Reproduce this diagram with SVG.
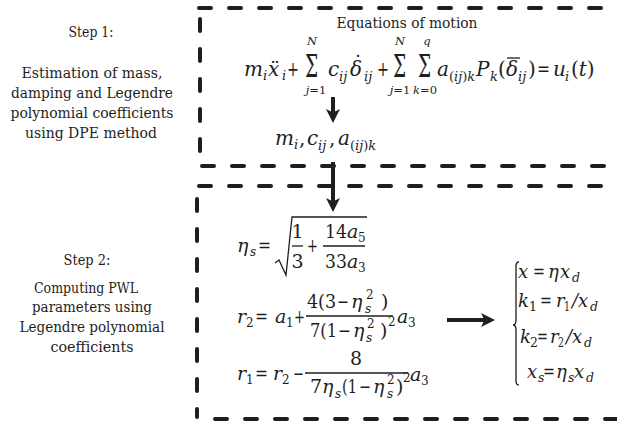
<svg xmlns="http://www.w3.org/2000/svg" width="617" height="423" viewBox="0 0 617 423">
<style>
text{font-family:"DejaVu Serif",serif;fill:#1e1e1e}
.t{font-size:15.5px;text-anchor:middle}
.m{font-size:20px;font-style:italic}
.r{font-size:20px}
.sig{font-size:31px}
.s{font-size:13px;font-style:italic}
.l{font-size:11.5px;font-style:italic;text-anchor:middle}
.m2{font-size:19px;font-style:italic}
.r2{font-size:19px}
.s2{font-size:12px;font-style:italic}
.sr2{font-size:12px}
.m3{font-size:18px;font-style:italic}
.r3{font-size:18px}
.s3{font-size:12.5px;font-style:italic}
.sr3{font-size:12.5px}
.dash{fill:none;stroke:#1e1e1e;stroke-width:4;stroke-dasharray:12 18;stroke-linecap:round}
.arr{fill:none;stroke:#1e1e1e;stroke-width:4}
.thin{fill:none;stroke:#1e1e1e;stroke-width:1.3}
</style>
<defs>
<marker id="ah" markerUnits="userSpaceOnUse" markerWidth="15" markerHeight="14" refX="8" refY="7" orient="auto">
<path d="M0,0 L14,7 L0,14 L3.5,7 z" fill="#1e1e1e"/>
</marker>
</defs>

<g id="boxes">
<path class="dash" d="M199 8 H617"/>
<path class="dash" d="M200 19 V160"/>
<path class="dash" d="M202 166 H617"/>
<path class="dash" d="M199 186 H617"/>
<path class="dash" d="M197 199 V417"/>
<path class="dash" d="M215 419 H617"/>
</g>

<g id="step1-label">
<text class="t" x="91" y="37" textLength="45" lengthAdjust="spacingAndGlyphs">Step 1:</text>
<text class="t" x="92" y="78" textLength="141" lengthAdjust="spacingAndGlyphs">Estimation of mass,</text>
<text class="t" x="92" y="98" textLength="162" lengthAdjust="spacingAndGlyphs">damping and Legendre</text>
<text class="t" x="92" y="118" textLength="163" lengthAdjust="spacingAndGlyphs">polynomial coefficients</text>
<text class="t" x="91" y="138" textLength="132" lengthAdjust="spacingAndGlyphs">using DPE method</text>
</g>

<g id="step2-label">
<text class="t" x="87" y="265" textLength="47" lengthAdjust="spacingAndGlyphs">Step 2:</text>
<text class="t" x="86" y="293" textLength="104" lengthAdjust="spacingAndGlyphs">Computing PWL</text>
<text class="t" x="92" y="312" textLength="120" lengthAdjust="spacingAndGlyphs">parameters using</text>
<text class="t" x="92" y="332" textLength="145" lengthAdjust="spacingAndGlyphs">Legendre polynomial</text>
<text class="t" x="92" y="352" textLength="83" lengthAdjust="spacingAndGlyphs">coefficients</text>
</g>

<g id="equations-of-motion">
<text class="t" x="407" y="28" textLength="141" lengthAdjust="spacingAndGlyphs">Equations of motion</text>
<text class="m" x="244" y="76">m</text><text class="s" x="263" y="80">i</text>
<text class="m" x="268" y="76">x<tspan x="270" font-style="normal">¨</tspan></text><text class="s" x="282" y="80">i</text>
<text class="r" x="287" y="76" textLength="12" lengthAdjust="spacingAndGlyphs">+</text>
<text class="sig" transform="translate(305,77) scale(0.6,1)">Σ</text>
<text class="l" x="312" y="45">N</text>
<text class="l" x="316" y="94">j<tspan font-style="normal">=1</tspan></text>
<text class="m" x="328" y="76">c</text><text class="s" x="339" y="81">ij</text>
<text class="m" x="350" y="76">δ<tspan x="353" y="70" font-style="normal">˙</tspan></text><text class="s" x="364" y="81">ij</text>
<text class="r" x="377" y="76" textLength="12" lengthAdjust="spacingAndGlyphs">+</text>
<text class="sig" transform="translate(393,77) scale(0.6,1)">Σ</text>
<text class="l" x="400" y="45">N</text>
<text class="l" x="400" y="94">j<tspan font-style="normal">=1</tspan></text>
<text class="sig" transform="translate(418,77) scale(0.6,1)">Σ</text>
<text class="l" x="427" y="45">q</text>
<text class="l" x="425" y="94">k<tspan font-style="normal">=0</tspan></text>
<text class="m" x="437" y="76">a</text><text class="s" x="449" y="81"><tspan font-style="normal">(</tspan>ij<tspan font-style="normal">)</tspan>k</text>
<text class="m" x="476" y="76">P</text><text class="s" x="490" y="81">k</text>
<text class="r" x="498" y="76">(</text>
<text class="m" x="506" y="76">δ</text><line class="thin" x1="507" y1="58" x2="520" y2="58"/><text class="s" x="518" y="81">ij</text>
<text class="r" x="528" y="76">)</text>
<text class="r" x="537" y="76" textLength="13" lengthAdjust="spacingAndGlyphs">=</text>
<text class="m" x="553" y="76">u</text><text class="s" x="565" y="81">i</text>
<text class="r" x="571" y="76">(<tspan font-style="italic">t</tspan>)</text>
</g>

<g id="parameters">
<text class="m" x="275" y="145">m</text><text class="s" x="294" y="149">i</text>
<text class="r" x="299" y="145">,</text>
<text class="m" x="307" y="145">c</text><text class="s" x="318" y="150">ij</text>
<text class="r" x="329" y="145">,</text>
<text class="m" x="338" y="145">a</text><text class="s" x="350" y="150"><tspan font-style="normal">(</tspan>ij<tspan font-style="normal">)</tspan>k</text>
</g>

<g id="eta-eq">
<text class="m2" x="237" y="252">η</text><text class="s2" x="250" y="256">s</text>
<text class="r2" x="258" y="252" textLength="13" lengthAdjust="spacingAndGlyphs">=</text>
<path class="thin" d="M275 263 L279 260 L286 275 L292 217 L367 217"/>
<text class="r2" x="297.5" y="238" text-anchor="middle">1</text>
<line class="thin" x1="292" y1="246" x2="303" y2="246"/>
<text class="r2" x="297.5" y="268" text-anchor="middle">3</text>
<text class="r2" x="307" y="252" textLength="11" lengthAdjust="spacingAndGlyphs">+</text>
<text class="r2" x="325" y="238" textLength="22" lengthAdjust="spacingAndGlyphs">14</text><text class="m2" x="347" y="238">a</text><text class="sr2" x="358" y="242">5</text>
<line class="thin" x1="323" y1="246" x2="365" y2="246"/>
<text class="r2" x="325" y="268" textLength="22" lengthAdjust="spacingAndGlyphs">33</text><text class="m2" x="347" y="268">a</text><text class="sr2" x="358" y="272">3</text>
</g>

<g id="r2-eq">
<text class="m2" x="237" y="323">r</text><text class="sr2" x="246" y="327">2</text>
<text class="r2" x="255" y="323" textLength="13" lengthAdjust="spacingAndGlyphs">=</text>
<text class="m2" x="275" y="323">a</text><text class="sr2" x="286" y="327">1</text>
<text class="r2" x="294" y="323" textLength="11" lengthAdjust="spacingAndGlyphs">+</text>
<text class="r2" x="307" y="308" textLength="29" lengthAdjust="spacingAndGlyphs">4(3</text><text class="r2" x="337" y="308" textLength="12" lengthAdjust="spacingAndGlyphs">−</text><text class="m2" x="351" y="308">η</text><text class="sr2" x="366" y="299">2</text><text class="s2" x="365" y="313">s</text><text class="r2" x="381" y="308">)</text>
<line class="thin" x1="306" y1="316" x2="393" y2="316"/>
<text class="r2" x="310" y="337" textLength="27" lengthAdjust="spacingAndGlyphs">7(1</text><text class="r2" x="338" y="337" textLength="13" lengthAdjust="spacingAndGlyphs">−</text><text class="m2" x="353" y="337">η</text><text class="sr2" x="367" y="328">2</text><text class="s2" x="366" y="342">s</text><text class="r2" x="380" y="337">)</text><text class="sr2" x="388" y="326">2</text>
<text class="m2" x="397" y="323">a</text><text class="sr2" x="408" y="327">3</text>
</g>

<g id="r1-eq">
<text class="m2" x="237" y="380">r</text><text class="sr2" x="246" y="384">1</text>
<text class="r2" x="255" y="380" textLength="13" lengthAdjust="spacingAndGlyphs">=</text>
<text class="m2" x="273" y="380">r</text><text class="sr2" x="282" y="384">2</text>
<text class="r2" x="293" y="380" textLength="11" lengthAdjust="spacingAndGlyphs">−</text>
<text class="r2" x="356" y="365" text-anchor="middle">8</text>
<line class="thin" x1="305" y1="373" x2="408" y2="373"/>
<text class="r2" x="310" y="393">7</text><text class="m2" x="322" y="393">η</text><text class="s2" x="335" y="398">s</text><text class="r2" x="342" y="393" textLength="15" lengthAdjust="spacingAndGlyphs">(1</text><text class="r2" x="359" y="393" textLength="12" lengthAdjust="spacingAndGlyphs">−</text><text class="m2" x="373" y="393">η</text><text class="sr2" x="387" y="384">2</text><text class="s2" x="387" y="398">s</text><text class="r2" x="396" y="393">)</text><text class="sr2" x="403" y="382">2</text>
<text class="m2" x="410" y="381">a</text><text class="sr2" x="421" y="385">3</text>
</g>

<g id="pwl-params">
<path class="thin" stroke-width="1" d="M519 262 Q516 262 516 266 L516 320 Q516 325 513 325 Q516 325 516 330 L516 381 Q516 385 519 385"/>
<text class="m3" x="518" y="278">x</text><text class="r3" x="533" y="278" textLength="12" lengthAdjust="spacingAndGlyphs">=</text><text class="m3" x="548" y="278">η</text><text class="m3" x="560" y="278">x</text><text class="s3" x="572" y="282">d</text>
<text class="m3" x="518" y="307">k</text><text class="sr3" x="529" y="311">1</text><text class="r3" x="540" y="307" textLength="12" lengthAdjust="spacingAndGlyphs">=</text><text class="m3" x="556" y="307">r</text><text class="sr3" x="564" y="311" textLength="6" lengthAdjust="spacingAndGlyphs">1</text><text class="m3" x="572" y="307">/</text><text class="m3" x="578" y="307">x</text><text class="s3" x="590" y="311">d</text>
<text class="m3" x="520" y="343">k</text><text class="sr3" x="530" y="347">2</text><text class="r3" x="537" y="343" textLength="11" lengthAdjust="spacingAndGlyphs">=</text><text class="m3" x="550" y="343">r</text><text class="sr3" x="558" y="347" textLength="6" lengthAdjust="spacingAndGlyphs">2</text><text class="m3" x="566" y="343">/</text><text class="m3" x="572" y="343">x</text><text class="s3" x="584" y="347">d</text>
<text class="m3" x="527" y="378">x</text><text class="s3" x="538" y="382">s</text><text class="r3" x="543" y="378" textLength="12" lengthAdjust="spacingAndGlyphs">=</text><text class="m3" x="556" y="378">η</text><text class="s3" x="568" y="382">s</text><text class="m3" x="574" y="378">x</text><text class="s3" x="586" y="382">d</text>
</g>

<g id="connectors">
<line class="arr" x1="333" y1="97" x2="333" y2="117" marker-end="url(#ah)"/>
<line class="arr" x1="333" y1="162" x2="333" y2="206" marker-end="url(#ah)"/>
<line class="arr" x1="447" y1="320" x2="489" y2="320" marker-end="url(#ah)"/>
</g>
</svg>
